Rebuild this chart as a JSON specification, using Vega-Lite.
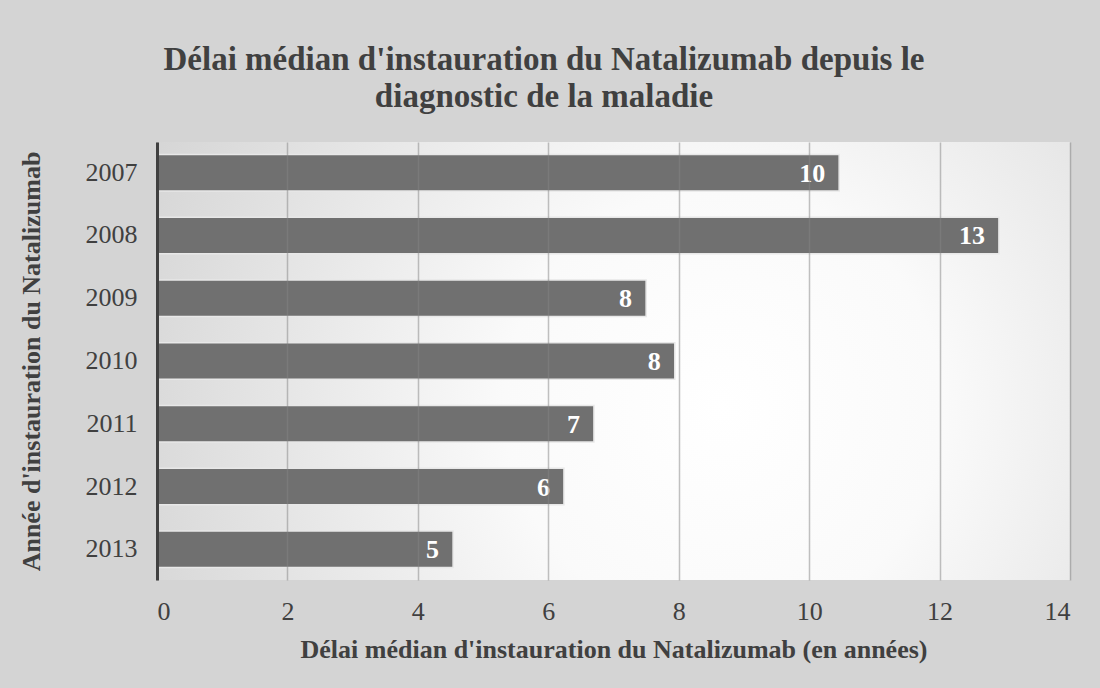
{
  "$schema": "https://vega.github.io/schema/vega-lite/v6.json",
  "autosize": {"type": "none"},
  "padding": {"left": 157, "top": 142, "right": 30, "bottom": 108},
  "width": 913,
  "height": 438,
  "background": "#d4d4d4",
  "title": {
    "text": ["Délai médian d'instauration du Natalizumab depuis le", "diagnostic de la maladie"],
    "font": "Liberation Serif",
    "fontSize": 33,
    "fontWeight": "bold",
    "color": "#404040",
    "anchor": "middle",
    "frame": "bounds",
    "lineHeight": 37,
    "offset": 28
  },
  "data": {
    "values": [
      {"year": "2007", "delay": 10.46, "label": "10"},
      {"year": "2008", "delay": 12.91, "label": "13"},
      {"year": "2009", "delay": 7.5, "label": "8"},
      {"year": "2010", "delay": 7.94, "label": "8"},
      {"year": "2011", "delay": 6.7, "label": "7"},
      {"year": "2012", "delay": 6.24, "label": "6"},
      {"year": "2013", "delay": 4.54, "label": "5"}
    ]
  },
  "encoding": {
    "y": {
      "field": "year",
      "type": "nominal",
      "sort": null,
      "scale": {"paddingInner": 0.42, "paddingOuter": 0.2},
      "axis": {
        "title": "Année d'instauration du Natalizumab",
        "titleFont": "Liberation Serif",
        "titleFontSize": 26,
        "titleFontWeight": "bold",
        "titleColor": "#404040",
        "titlePadding": 41,
        "labelFont": "Liberation Serif",
        "labelFontSize": 26,
        "labelColor": "#404040",
        "labelPadding": 20,
        "ticks": false,
        "domainColor": "#404040",
        "domainWidth": 3,
        "zindex": 2
      }
    },
    "x": {
      "field": "delay",
      "type": "quantitative",
      "scale": {"domain": [0, 14]},
      "axis": {
        "title": "Délai médian d'instauration du Natalizumab (en années)",
        "titleFont": "Liberation Serif",
        "titleFontSize": 26,
        "titleFontWeight": "bold",
        "titleColor": "#404040",
        "titlePadding": 12,
        "labelFont": "Liberation Serif",
        "labelFontSize": 26,
        "labelColor": "#404040",
        "labelPadding": 18,
        "values": [0, 2, 4, 6, 8, 10, 12, 14],
        "ticks": false,
        "domain": false,
        "grid": true,
        "gridColor": "#838383",
        "gridOpacity": 0.5,
        "gridWidth": 1.5,
        "zindex": 1
      }
    }
  },
  "layer": [
    {
      "mark": {"type": "bar", "fill": "#707070", "stroke": "#e8e8e8", "strokeWidth": 1.5}
    },
    {
      "mark": {
        "type": "text",
        "align": "right",
        "baseline": "middle",
        "dx": -14,
        "dy": 1,
        "font": "Liberation Serif",
        "fontSize": 26,
        "fontWeight": "bold",
        "color": "#ffffff"
      },
      "encoding": {"text": {"field": "label"}}
    }
  ],
  "config": {
    "view": {
      "stroke": null,
      "fill": {
        "gradient": "radial",
        "x1": 0.62, "y1": 0.55, "r1": 0,
        "x2": 0.62, "y2": 0.55, "r2": 0.8,
        "stops": [
          {"offset": 0, "color": "#ffffff"},
          {"offset": 0.3, "color": "#fafafa"},
          {"offset": 1, "color": "#cccccc"}
        ]
      }
    }
  }
}
